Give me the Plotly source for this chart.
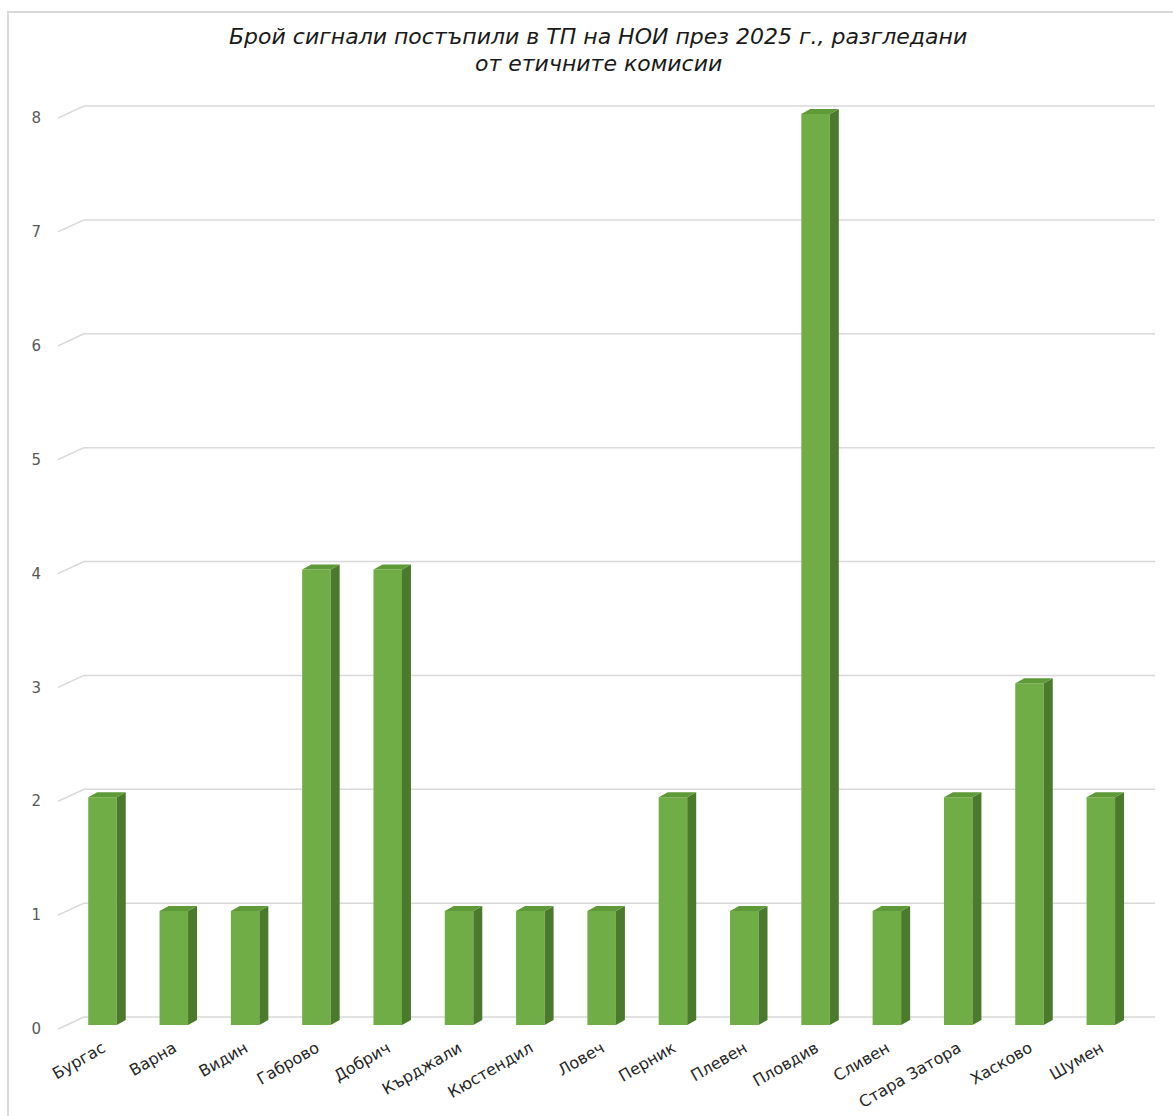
import plotly.graph_objects as go

# ---- data ----
categories = ["Бургас", "Варна", "Видин", "Габрово", "Добрич", "Кърджали", "Кюстендил",
              "Ловеч", "Перник", "Плевен", "Пловдив", "Сливен", "Стара Затора", "Хасково", "Шумен"]
values = [2, 1, 1, 4, 4, 1, 1, 1, 2, 1, 8, 1, 2, 3, 2]
y_ticks = [0, 1, 2, 3, 4, 5, 6, 7, 8]
title_lines = ["Брой сигнали постъпили в ТП на НОИ през 2025 г., разгледани",
               "от етичните комисии"]

# ---- style / geometry constants ----
W, H = 1173, 1116
ML, MR, MT, MB = 58, 18, 100, 81
X_RANGE = [-0.624, 14.76]
Y_RANGE = [-0.088, 8.123]
BAR_W = 0.4
DX = 0.126      # depth offset (x, data units)
DY = 0.044      # depth offset (y, data units)
BACK_DX = 0.365  # back wall offset from front left edge
BACK_DY = 0.070
FRONT_DROP = 0.035
FRONT = "#70AD47"
SIDE = "#4B7A2C"
TOP = "#5F9A39"
GRID = "#D9D9D9"

xs = list(range(len(categories)))

fig = go.Figure()

# front faces
fig.add_trace(go.Bar(x=xs, y=values, width=BAR_W, marker=dict(color=FRONT, line=dict(width=0)),
                     hoverinfo="skip", showlegend=False, cliponaxis=False))

# side faces
sx, sy = [], []
for x, v in zip(xs, values):
    r = x + BAR_W / 2
    sx += [r, r + DX, r + DX, r, r, None]
    sy += [0, DY, v + DY, v, 0, None]
fig.add_trace(go.Scatter(x=sx, y=sy, mode="lines", fill="toself", fillcolor=SIDE,
                         line=dict(width=0, color=SIDE), hoverinfo="skip", showlegend=False,
                         cliponaxis=False))

# top faces
tx, ty = [], []
for x, v in zip(xs, values):
    l, r = x - BAR_W / 2, x + BAR_W / 2
    tx += [l, r, r + DX, l + DX, l, None]
    ty += [v, v, v + DY, v + DY, v, None]
fig.add_trace(go.Scatter(x=tx, y=ty, mode="lines", fill="toself", fillcolor=TOP,
                         line=dict(width=0, color=TOP), hoverinfo="skip", showlegend=False,
                         cliponaxis=False))

# perspective gridlines (below traces)
shapes = []
x_front = X_RANGE[0]
x_back = X_RANGE[0] + BACK_DX
for v in y_ticks:
    shapes.append(dict(type="line", xref="x", yref="y", layer="below",
                       x0=x_front, y0=v - FRONT_DROP, x1=x_back, y1=v + BACK_DY,
                       line=dict(color=GRID, width=1.5)))
    shapes.append(dict(type="line", xref="x", yref="y", layer="below",
                       x0=x_back, y0=v + BACK_DY, x1=X_RANGE[1], y1=v + BACK_DY,
                       line=dict(color=GRID, width=1.5)))

# chart border
pw = W - ML - MR
ph = H - MT - MB
shapes.append(dict(type="rect", xref="paper", yref="paper", layer="below",
                   x0=(8 - ML) / pw, x1=1.2, y0=-0.3, y1=(H - MB - 12) / ph,
                   line=dict(color=GRID, width=2), fillcolor="rgba(0,0,0,0)"))

title_centers_px = [36, 63]
annotations = []
for line, cy in zip(title_lines, title_centers_px):
    annotations.append(dict(text=line, xref="paper", yref="paper",
                            x=(598 - ML) / pw, y=(H - MB - cy) / ph,
                            xanchor="center", yanchor="middle", showarrow=False,
                            font=dict(family="DejaVu Sans", size=22, color="#1a1a1a",
                                      style="italic")))

fig.update_layout(
    width=W, height=H,
    margin=dict(l=ML, r=MR, t=MT, b=MB, autoexpand=False),
    paper_bgcolor="white", plot_bgcolor="white",
    shapes=shapes,
    showlegend=False,
    font=dict(family="DejaVu Sans", color="#333333"),
    annotations=annotations,
    xaxis=dict(range=X_RANGE, tickmode="array", tickvals=xs, ticktext=categories,
               tickangle=-30, showgrid=False, zeroline=False, showline=False, ticks="",
               automargin=False,
               tickfont=dict(size=16, color="#262626"), fixedrange=True),
    yaxis=dict(range=Y_RANGE, tickmode="array",
               tickvals=[v - FRONT_DROP for v in y_ticks], ticktext=[str(v) for v in y_ticks],
               showgrid=False, zeroline=False, showline=False, ticks="",
               ticklabelstandoff=16, automargin=False,
               tickfont=dict(size=15, color="#595959"), fixedrange=True),
)

fig.write_html("out.html")
